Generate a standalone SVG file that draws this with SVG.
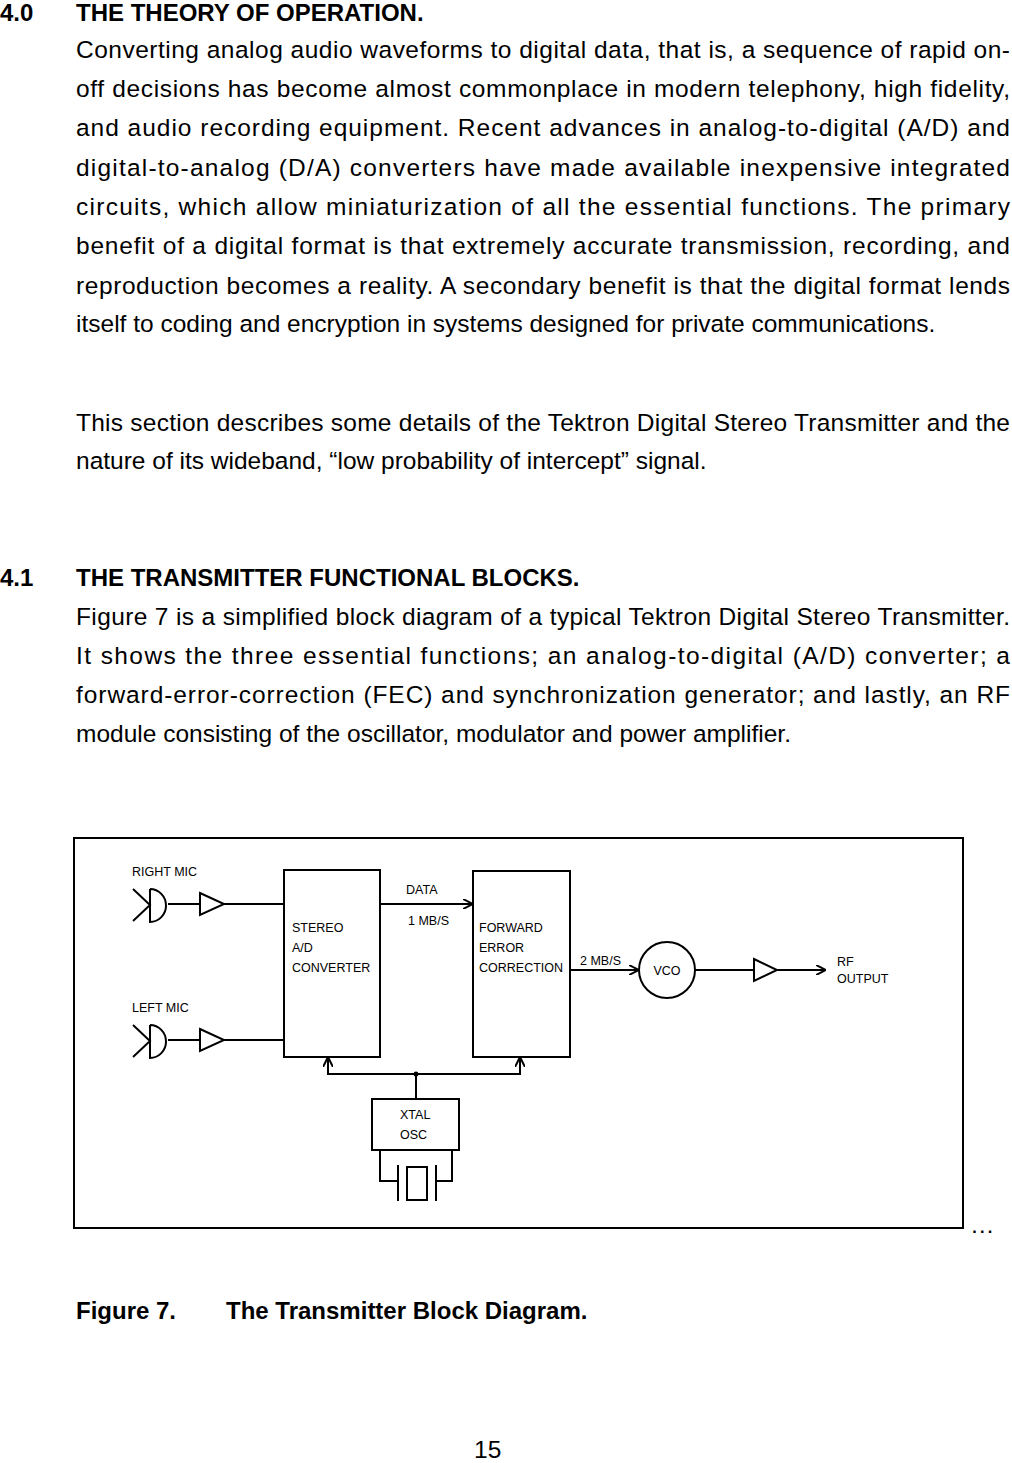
<svg xmlns="http://www.w3.org/2000/svg" width="1012" height="1463" viewBox="0 0 1012 1463">
<style>
.b{font-family:"Liberation Sans",Arial,sans-serif;font-size:24.5px;fill:#000}
.h{font-weight:bold;font-size:24px}
.d{font-family:"Liberation Sans",Arial,sans-serif;font-size:12.5px;fill:#000}
.s{fill:none;stroke:#000;stroke-width:2}
</style>
<defs><marker id="a" viewBox="0 0 10 10" refX="9" refY="5" markerWidth="10" markerHeight="10" markerUnits="userSpaceOnUse" orient="auto"><path d="M0,0 L10,5 L0,10" fill="none" stroke="#000" stroke-width="2"/></marker></defs>
<rect width="1012" height="1463" fill="#fff"/>
<g id="text">
<text class="b h" x="0" y="21">4.0</text><text class="b h" x="76" y="21">THE THEORY OF OPERATION.</text>
<text class="b" x="76" y="58" textLength="934" lengthAdjust="spacing">Converting analog audio waveforms to digital data, that is, a sequence of rapid on-</text>
<text class="b" x="76" y="97" textLength="934" lengthAdjust="spacing">off decisions has become almost commonplace in modern telephony, high fidelity,</text>
<text class="b" x="76" y="136" textLength="934" lengthAdjust="spacing">and audio recording equipment.  Recent advances in analog-to-digital (A/D) and</text>
<text class="b" x="76" y="176" textLength="934" lengthAdjust="spacing">digital-to-analog (D/A) converters have made available inexpensive integrated</text>
<text class="b" x="76" y="215" textLength="934" lengthAdjust="spacing">circuits, which allow miniaturization of all the essential functions.  The primary</text>
<text class="b" x="76" y="254" textLength="934" lengthAdjust="spacing">benefit of a digital format is that extremely accurate transmission, recording, and</text>
<text class="b" x="76" y="294" textLength="934" lengthAdjust="spacing">reproduction becomes a reality.  A secondary benefit is that the digital format lends</text>
<text class="b" x="76" y="332">itself to coding and encryption in systems designed for private communications.</text>
<text class="b" x="76" y="431" textLength="934" lengthAdjust="spacing">This section describes some details of the Tektron Digital Stereo Transmitter and the</text>
<text class="b" x="76" y="469">nature of its wideband, “low probability of intercept” signal.</text>
<text class="b h" x="0" y="586">4.1</text><text class="b h" x="76" y="586">THE TRANSMITTER FUNCTIONAL BLOCKS.</text>
<text class="b" x="76" y="625" textLength="934" lengthAdjust="spacing">Figure 7 is a simplified block diagram of a typical Tektron Digital Stereo Transmitter.</text>
<text class="b" x="76" y="664" textLength="934" lengthAdjust="spacing"> It shows the three essential functions; an analog-to-digital (A/D) converter; a</text>
<text class="b" x="76" y="703" textLength="934" lengthAdjust="spacing">forward-error-correction (FEC) and synchronization generator; and lastly, an RF</text>
<text class="b" x="76" y="742">module consisting of the oscillator, modulator and power amplifier.</text>
<text class="b h" x="76" y="1319">Figure 7.</text><text class="b h" x="226" y="1319">The Transmitter Block Diagram.</text>
<text class="b" x="474" y="1458">15</text>
<text class="b" x="970" y="1233">…</text>
</g>
<rect x="74" y="838" width="889" height="390" class="s"/>
<g id="rightmic"><path class="s" d="M133,889 L150,905 L133,921 M150,889 L150,922 A16,16.5 0 0 0 150,889"/><text class="d" x="132" y="876">RIGHT MIC</text></g>
<g id="leftmic"><path class="s" d="M133,1025 L150,1041 L133,1057 M150,1025 L150,1058 A16,16.5 0 0 0 150,1025"/><text class="d" x="132" y="1012">LEFT MIC</text></g>
<g id="amp1"><path class="s" d="M200,893 L224,904 L200,915 Z"/></g>
<g id="amp2"><path class="s" d="M200,1029 L224,1040 L200,1051 Z"/></g>
<g id="adc"><rect x="284" y="870" width="96" height="187" class="s"/><text class="d" x="292" y="932">STEREO</text><text class="d" x="292" y="952">A/D</text><text class="d" x="292" y="972">CONVERTER</text></g>
<g id="fec"><rect x="473" y="871" width="97" height="186" class="s"/><text class="d" x="479" y="932">FORWARD</text><text class="d" x="479" y="952">ERROR</text><text class="d" x="479" y="972">CORRECTION</text></g>
<g id="vco"><circle cx="667" cy="970" r="28" class="s"/><text class="d" x="667" y="975" text-anchor="middle">VCO</text></g>
<g id="amp3"><path class="s" d="M754,959 L777,970 L754,981 Z"/></g>
<g id="xtal"><rect x="372" y="1099" width="87" height="51" class="s"/><text class="d" x="400" y="1119">XTAL</text><text class="d" x="400" y="1139">OSC</text>
<path class="s" d="M380,1150 V1181 H398 M398,1165 V1201 M436,1165 V1201 M436,1181 H452 V1150"/><rect x="407" y="1167" width="20" height="33" class="s"/></g>
<g id="connectors">
<path class="s" d="M168,904 H200 M224,904 H284 M168,1040 H200 M224,1040 H284"/>
<path class="s" d="M380,904 H472" marker-end="url(#a)"/>
<path class="s" d="M570,970 H638" marker-end="url(#a)"/>
<path class="s" d="M695,970 H754"/>
<path class="s" d="M777,970 H825" marker-end="url(#a)"/>
<path class="s" d="M416,1099 V1074 H328 V1058" marker-end="url(#a)"/>
<path class="s" d="M416,1074 H520 V1058" marker-end="url(#a)"/>
<circle cx="416" cy="1074" r="2.5" fill="#000"/>
<text class="d" x="406" y="894">DATA</text><text class="d" x="408" y="925">1 MB/S</text>
<text class="d" x="580" y="965">2 MB/S</text>
<text class="d" x="837" y="966" font-size="15">RF</text><text class="d" x="837" y="983" font-size="15">OUTPUT</text>
</g>
</svg>
